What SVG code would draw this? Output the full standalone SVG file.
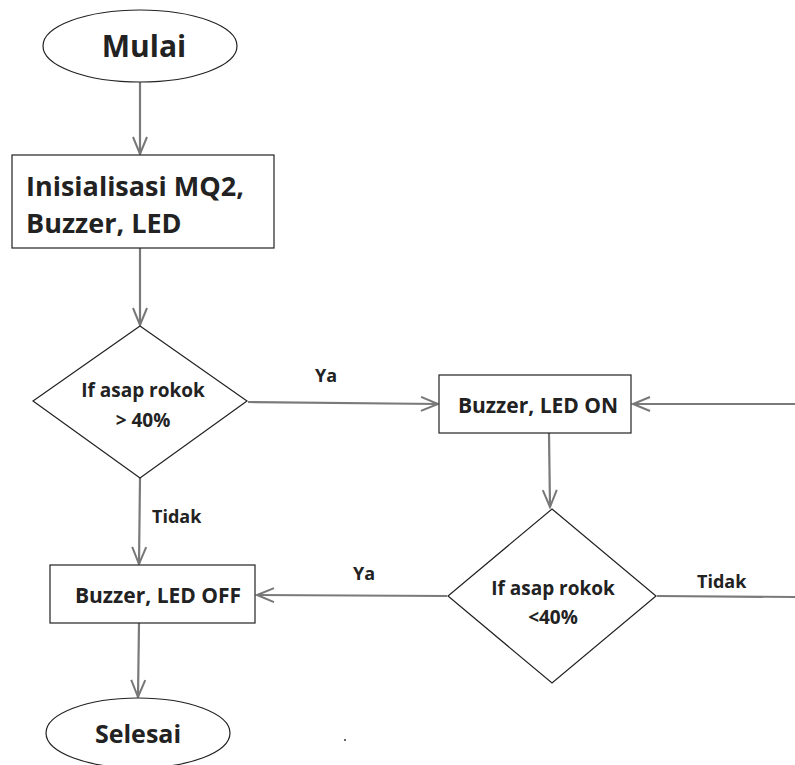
<svg xmlns="http://www.w3.org/2000/svg" width="795" height="765" viewBox="0 0 795 765">
<defs>
<marker id="ah" viewBox="0 0 20 20" refX="18" refY="10" markerWidth="20" markerHeight="20" markerUnits="userSpaceOnUse" orient="auto">
<path d="M1,3 L18,10 L1,17" fill="none" stroke="#777" stroke-width="2"/>
</marker>
<style>
.shape{fill:#fff;stroke:#222;stroke-width:1.2}
.c{fill:none;stroke:#7a7a7a;stroke-width:2.2}
text{font-family:"Open Sans","Liberation Sans",sans-serif;font-weight:bold;fill:#222}
.big{font-size:27px}
.title{font-size:30px}
.end{font-size:25px}
.mid{font-size:19px}
.box{font-size:21px}
.sm{font-size:18px}
</style>
</defs>
<rect width="795" height="765" fill="#fff"/>
<g id="connectors">
<line class="c" x1="140" y1="82" x2="140" y2="154" marker-end="url(#ah)"/>
<line class="c" x1="140" y1="248" x2="140" y2="325" marker-end="url(#ah)"/>
<line class="c" x1="248" y1="402" x2="438" y2="404" marker-end="url(#ah)"/>
<line class="c" x1="795" y1="404" x2="633" y2="404" marker-end="url(#ah)"/>
<line class="c" x1="549" y1="433" x2="550" y2="507" marker-end="url(#ah)"/>
<line class="c" x1="447" y1="596" x2="257" y2="595" marker-end="url(#ah)"/>
<line class="c" x1="657" y1="596" x2="795" y2="597"/>
<line class="c" x1="140" y1="478" x2="139" y2="564" marker-end="url(#ah)"/>
<line class="c" x1="139" y1="623" x2="138" y2="697" marker-end="url(#ah)"/>
<text class="sm" x="326" y="382" text-anchor="middle">Ya</text>
<text class="sm" x="364" y="580" text-anchor="middle">Ya</text>
<text class="sm" x="152" y="523">Tidak</text>
<text class="sm" x="697" y="588">Tidak</text>
</g>
<g id="mulai">
<ellipse class="shape" cx="140" cy="46" rx="97" ry="36"/>
<text class="title" x="144" y="57" text-anchor="middle">Mulai</text>
</g>
<g id="init">
<rect class="shape" x="12" y="155" width="262" height="93"/>
<text class="big" x="26" y="196">Inisialisasi MQ2,</text>
<text class="big" x="26" y="233">Buzzer, LED</text>
</g>
<g id="cek1">
<polygon class="shape" points="140,326 247,401 140,478 33,401"/>
<text class="mid" x="143" y="397" text-anchor="middle">If asap rokok</text>
<text class="mid" x="143" y="427" text-anchor="middle">&gt; 40%</text>
</g>
<g id="on">
<rect class="shape" x="439" y="375" width="192" height="58"/>
<text class="box" x="538" y="413" text-anchor="middle">Buzzer, LED ON</text>
</g>
<g id="cek2">
<polygon class="shape" points="552,509 656,596 552,683 448,596"/>
<text class="mid" x="553" y="595" text-anchor="middle">If asap rokok</text>
<text class="mid" x="553" y="624" text-anchor="middle">&lt;40%</text>
</g>
<g id="off">
<rect class="shape" x="50" y="565" width="205" height="58"/>
<text class="box" x="158" y="603" text-anchor="middle">Buzzer, LED OFF</text>
</g>
<g id="selesai">
<ellipse class="shape" cx="138" cy="733" rx="92" ry="35"/>
<text class="end" x="138" y="743" text-anchor="middle">Selesai</text>
</g>
<circle cx="345" cy="740" r="1" fill="#333"/>
</svg>
